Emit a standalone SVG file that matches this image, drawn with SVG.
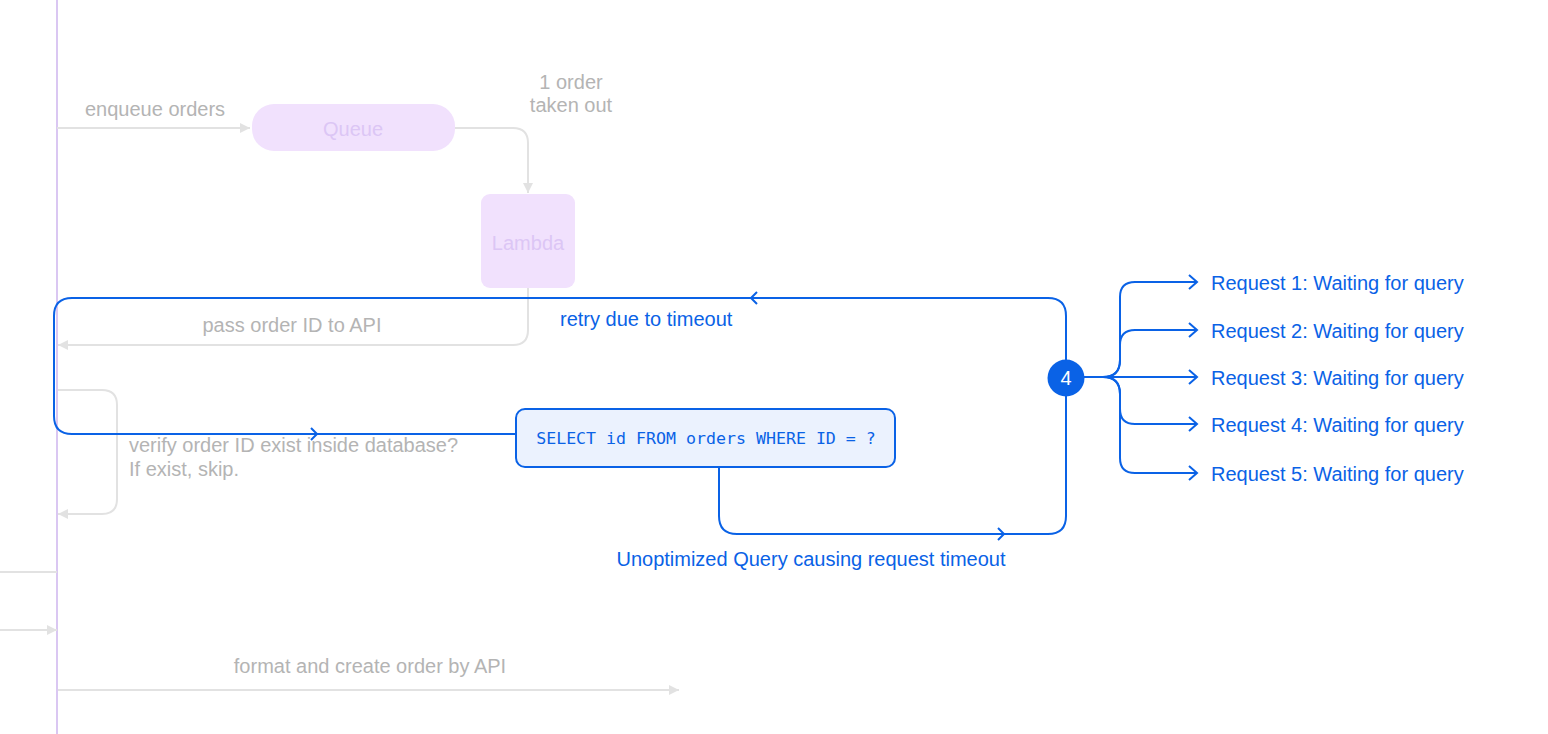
<svg xmlns="http://www.w3.org/2000/svg" width="1548" height="734" viewBox="0 0 1548 734">
<style>
text{font-family:"Liberation Sans",Arial,sans-serif;font-size:20px}
.g{fill:#b4b4b4}
.b{fill:#0a62e6}
.gl{fill:none;stroke:#e2e2e2;stroke-width:2}
.bl{fill:none;stroke:#0a62e6;stroke-width:2}
.mono{font-family:"DejaVu Sans Mono","Liberation Mono",monospace;font-size:16.6px;fill:#0a62e6}
</style>
<defs>
<marker id="ga" markerUnits="userSpaceOnUse" markerWidth="11" markerHeight="11" refX="10" refY="5" orient="auto" overflow="visible"><path d="M0,0 L10,5 L0,10 z" fill="#e2e2e2"/></marker>
<marker id="bc" markerUnits="userSpaceOnUse" markerWidth="10" markerHeight="16" refX="8" refY="7" orient="auto" overflow="visible"><path d="M0,0 L8,7 L0,14" fill="none" stroke="#0a62e6" stroke-width="2"/></marker>
</defs>
<rect width="1548" height="734" fill="#ffffff"/>
<g id="lifeline"><line x1="57" y1="0" x2="57" y2="734" stroke="#dac7f2" stroke-width="2"/></g>
<g id="connectors">
<path class="gl" d="M57,128 H250" marker-end="url(#ga)"/>
<path class="gl" d="M455,128 H513 Q528,128 528,143 V193" marker-end="url(#ga)"/>
<path class="gl" d="M528,288 V330 Q528,345 513,345 H58" marker-end="url(#ga)"/>
<path class="gl" d="M58,390 H102 Q117,390 117,405 V499 Q117,514 102,514 H58" marker-end="url(#ga)"/>
<path class="gl" d="M0,572 H57"/>
<path class="gl" d="M0,630 H57" marker-end="url(#ga)"/>
<path class="gl" d="M58,690 H679" marker-end="url(#ga)"/>
<text class="g" x="85" y="116">enqueue orders</text>
<text class="g" x="571" y="89" text-anchor="middle">1 order</text>
<text class="g" x="571" y="112" text-anchor="middle">taken out</text>
<text class="g" x="292" y="332" text-anchor="middle">pass order ID to API</text>
<text class="g" x="129" y="452">verify order ID exist inside database?</text>
<text class="g" x="129" y="476">If exist, skip.</text>
<text class="g" x="370" y="673" text-anchor="middle">format and create order by API</text>
<path class="bl" d="M1066,360 V316 Q1066,298 1048,298 H72 Q54,298 54,316 V416 Q54,434 72,434 H516"/>
<path class="bl" d="M757,292 L751,298 L757,304"/>
<path class="bl" d="M311,428 L317,434 L311,440"/>
<path class="bl" d="M719,467 V516 Q719,534 737,534 H1048 Q1066,534 1066,516 V396"/>
<path class="bl" d="M998,528 L1004,534 L998,540"/>
<text class="b" x="560" y="326">retry due to timeout</text>
<text class="b" x="811" y="566" text-anchor="middle">Unoptimized Query causing request timeout</text>
<path class="bl" d="M1084,377 H1103 Q1120,377 1120,360 V297 Q1120,282 1135,282 H1197" marker-end="url(#bc)"/>
<path class="bl" d="M1103,377 Q1120,377 1120,360 V345 Q1120,330 1135,330 H1197" marker-end="url(#bc)"/>
<path class="bl" d="M1084,377 H1197" marker-end="url(#bc)"/>
<path class="bl" d="M1103,377 Q1120,377 1120,394 V409 Q1120,424 1135,424 H1197" marker-end="url(#bc)"/>
<path class="bl" d="M1103,377 Q1120,377 1120,394 V458 Q1120,473 1135,473 H1197" marker-end="url(#bc)"/>
<text class="b" x="1211" y="290">Request 1: Waiting for query</text>
<text class="b" x="1211" y="338">Request 2: Waiting for query</text>
<text class="b" x="1211" y="385">Request 3: Waiting for query</text>
<text class="b" x="1211" y="432">Request 4: Waiting for query</text>
<text class="b" x="1211" y="481">Request 5: Waiting for query</text>
</g>
<g id="queue">
<rect x="252" y="104" width="203" height="47" rx="22" fill="#f1e1fd"/>
<text x="353" y="136" text-anchor="middle" fill="#dcc6f5" font-size="18">Queue</text>
</g>
<g id="lambda">
<rect x="481" y="194" width="94" height="94" rx="9" fill="#f1e1fd"/>
<text x="528" y="250" text-anchor="middle" fill="#dcc6f5" font-size="18">Lambda</text>
</g>
<g id="sql">
<rect x="516" y="409" width="379" height="58" rx="9" fill="#ebf2fe" stroke="#0a62e6" stroke-width="2"/>
<text class="mono" x="706" y="444" text-anchor="middle">SELECT id FROM orders WHERE ID = ?</text>
</g>
<g id="step4">
<circle cx="1066" cy="378" r="18.5" fill="#0a62e6"/>
<text x="1066" y="384.5" text-anchor="middle" fill="#ffffff" font-size="17">4</text>
</g>
</svg>
